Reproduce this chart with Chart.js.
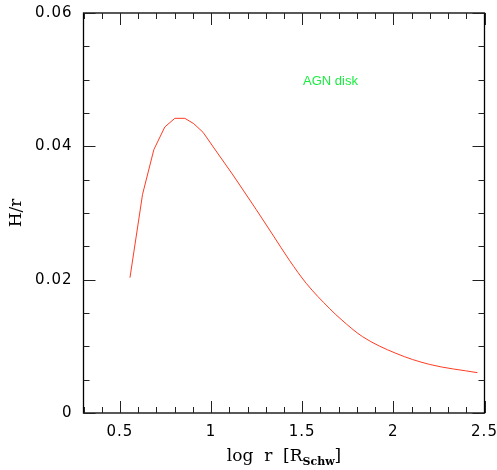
<!DOCTYPE html>
<html>
<head>
<meta charset="utf-8">
<script src="https://cdn.jsdelivr.net/npm/chart.js@4.4.1/dist/chart.umd.min.js"></script>
<style>
  body { margin: 0; background: #fff; }
</style>
</head>
<body>
<canvas id="disk" width="497" height="470"></canvas>
<script>
// H/r of the AGN disk vs log r
var innerLogR = [0.555, 0.624, 0.686, 0.746, 0.801, 0.856, 0.905, 0.956, 1.035];
var innerHr = [0.0203, 0.0328, 0.0395, 0.0429, 0.0442, 0.0442, 0.0434, 0.0421, 0.0390];
var outerLogR = [1.035, 1.12, 1.157, 1.248, 1.339, 1.43, 1.522, 1.649, 1.713, 1.831, 2.014, 2.197, 2.461];
var outerHr = [0.0390, 0.0357, 0.0342, 0.0305, 0.0267, 0.0229, 0.01945, 0.0157, 0.01405, 0.01145, 0.00895, 0.0073, 0.00605];

var xTicks = [0.5, 1, 1.5, 2, 2.5];
var yTicks = [0, 0.02, 0.04, 0.06];
var xMinorStep = 0.1;
var yMinorStep = 0.005;

function toPoints(xs, ys) {
    var pts = [];
    for (var i = 0; i < xs.length; i++) {
        pts.push({x: xs[i], y: ys[i]});
    }
    return pts;
}

// frame, inward ticks on all four sides, axis titles and the label
var framePlugin = {
    id: 'frame',
    beforeDraw: function(chart) {
        chart.ctx.letterSpacing = '1px';   // the tick numbers are set a bit wide
    },
    afterDraw: function(chart) {
        var ctx = chart.ctx;
        var a = chart.chartArea;
        var xs = chart.scales.x;
        var ys = chart.scales.y;
        ctx.save();
        ctx.letterSpacing = '0px';
        ctx.strokeStyle = '#000';
        ctx.lineWidth = 1.3;
        ctx.strokeRect(a.left, a.top, a.right - a.left, a.bottom - a.top);

        ctx.lineWidth = 1;
        ctx.strokeStyle = '#222';
        ctx.beginPath();
        for (var v = 0.3; v <= 2.5001; v += xMinorStep) {
            var px = Math.round(xs.getPixelForValue(v)) + 0.5;
            var major = Math.abs(v * 2 - Math.round(v * 2)) < 1e-6;
            var len = major ? 12 : 6;
            ctx.moveTo(px, a.bottom); ctx.lineTo(px, a.bottom - len);
            ctx.moveTo(px, a.top); ctx.lineTo(px, a.top + len);
        }
        for (var w = 0; w <= 0.06001; w += yMinorStep) {
            var py = Math.round(ys.getPixelForValue(w)) + 0.5;
            var majorY = Math.abs(w / 0.02 - Math.round(w / 0.02)) < 1e-6;
            var lenY = majorY ? 12 : 6;
            ctx.moveTo(a.left, py); ctx.lineTo(a.left + lenY, py);
            ctx.moveTo(a.right, py); ctx.lineTo(a.right - lenY, py);
        }
        ctx.stroke();

        // x title with subscript
        ctx.fillStyle = '#000';
        ctx.textBaseline = 'alphabetic';
        var main = '17px "DejaVu Serif", serif';
        var sub = 'bold 11px "DejaVu Serif", serif';
        var p1 = 'log  r  [R', p2 = 'Schw', p3 = ']';
        ctx.font = main;
        var w1 = ctx.measureText(p1).width;
        var w3 = ctx.measureText(p3).width;
        ctx.font = sub;
        var w2 = ctx.measureText(p2).width;
        var cx = (a.left + a.right) / 2;
        var sx = cx - (w1 + w2 + w3) / 2;
        var base = 461;
        ctx.font = main;
        ctx.fillText(p1, sx, base);
        ctx.font = sub;
        ctx.fillText(p2, sx + w1, base + 4);
        ctx.font = main;
        ctx.fillText(p3, sx + w1 + w2, base);

        // y title
        ctx.save();
        ctx.translate(21, (a.top + a.bottom) / 2);
        ctx.rotate(-Math.PI / 2);
        ctx.textAlign = 'center';
        ctx.font = main;
        ctx.fillText('H/r', 0, 0);
        ctx.restore();

        // annotation
        ctx.font = '13px "Liberation Sans", Arial, sans-serif';
        ctx.fillStyle = '#19ee3f';
        ctx.textAlign = 'center';
        ctx.textBaseline = 'middle';
        ctx.fillText('AGN disk', xs.getPixelForValue(1.655), ys.getPixelForValue(0.0497));
        ctx.restore();
    }
};

var ctx = document.getElementById('disk');
var chart = new Chart(ctx, {
    type: 'scatter',
    data: {
        datasets: [{
            data: toPoints(innerLogR, innerHr),
            showLine: true,
            borderColor: '#ff3b22',
            borderWidth: 1,
            pointRadius: 0,
            tension: 0
        }, {
            data: toPoints(outerLogR, outerHr),
            showLine: true,
            borderColor: '#ff3b22',
            borderWidth: 1,
            pointRadius: 0,
            cubicInterpolationMode: 'monotone'
        }]
    },
    options: {
        responsive: false,
        animation: false,
        layout: {
            padding: {left: 0, top: 13, right: 12.5, bottom: 0}
        },
        plugins: {
            legend: {display: false},
            tooltip: {enabled: false}
        },
        scales: {
            x: {
                type: 'linear',
                min: 0.3,
                max: 2.5,
                grid: {display: false},
                border: {display: false},
                afterBuildTicks: function(scale) {
                    scale.ticks = xTicks.map(function(v) { return {value: v}; });
                },
                afterFit: function(scale) {
                    scale.height = 57;
                    scale.paddingLeft = 0;
                    scale.paddingRight = 0;
                },
                ticks: {
                    padding: 2,
                    color: '#000',
                    maxRotation: 0,
                    font: {family: '"DejaVu Sans", sans-serif', size: 15},
                    callback: function(v) { return String(v); }
                }
            },
            y: {
                min: 0,
                max: 0.06,
                grid: {display: false},
                border: {display: false},
                afterBuildTicks: function(scale) {
                    scale.ticks = yTicks.map(function(v) { return {value: v}; });
                },
                afterFit: function(scale) {
                    scale.width = 83.5;
                    scale.paddingTop = 0;
                    scale.paddingBottom = 0;
                },
                ticks: {
                    padding: 3,
                    color: '#000',
                    font: {family: '"DejaVu Sans", sans-serif', size: 15},
                    callback: function(v) { return v === 0 ? '0' : v.toFixed(2); }
                }
            }
        }
    },
    plugins: [framePlugin]
});
</script>
</body>
</html>
